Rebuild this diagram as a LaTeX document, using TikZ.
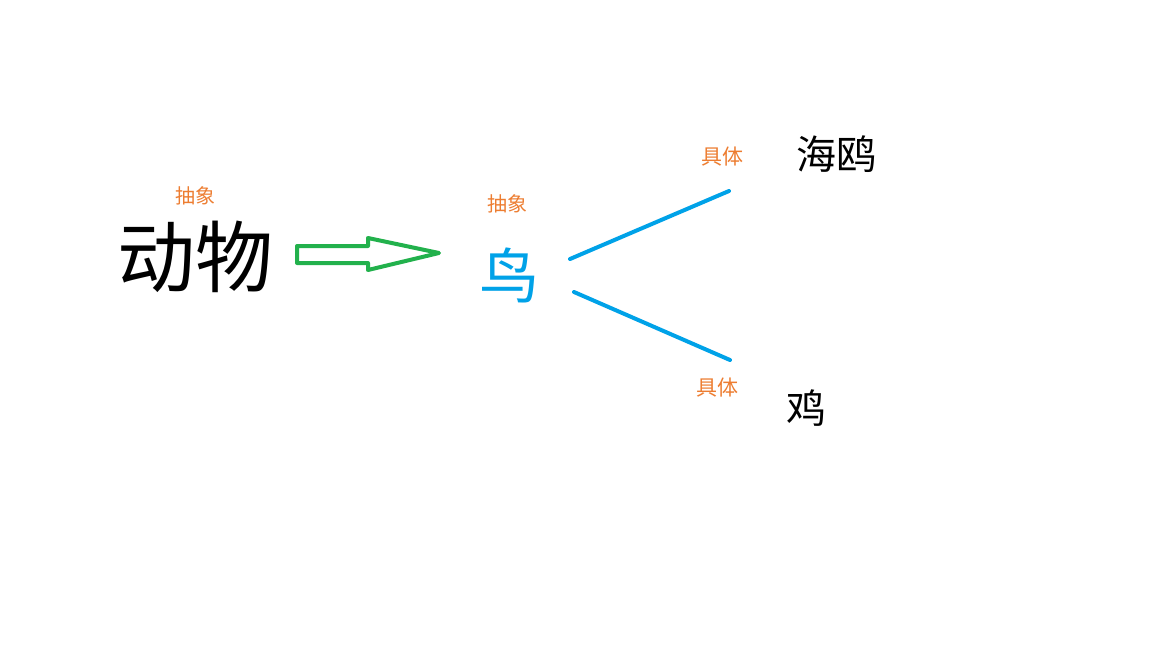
\documentclass[tikz,border=0pt]{standalone}
\usepackage{fontspec}
\setmainfont{Noto Sans CJK SC}
\definecolor{lbl}{HTML}{ED7D31}
\definecolor{birdblue}{HTML}{00A2E8}
\definecolor{arrgreen}{HTML}{22B14C}
\begin{document}
\begin{tikzpicture}[x=1pt,y=-1pt,
  txt/.style={inner sep=0pt,anchor=center},
  tag/.style={txt,text=lbl,font=\fontsize{20}{20}\selectfont},
  link/.style={draw=birdblue,line width=4pt,line cap=round}]
\useasboundingbox[fill=white] (0,0) rectangle (1152,648);
% main words
\node[txt,font=\fontsize{78}{78}\selectfont] (animal) at (195,257) {动物};
\node[tag] (abs1) at (195,196) {抽象};
\node[txt,text=birdblue,font=\fontsize{60}{60}\selectfont] (bird) at (509,275) {鸟};
\node[tag] (abs2) at (507,204) {抽象};
\node[txt,font=\fontsize{40}{40}\selectfont] (gull) at (836,154) {海鸥};
\node[txt,font=\fontsize{40}{40}\selectfont] (hen) at (806,408) {鸡};
\node[tag,font=\fontsize{21}{21}\selectfont] (con1) at (722,157) {具体};
\node[tag,font=\fontsize{21}{21}\selectfont] (con2) at (717,388) {具体};
% green outlined arrow
\draw[arrgreen,line width=4pt,line join=round]
  (297,246) -- (368,246) -- (368,238) -- (439,253) -- (368,270) -- (368,263) -- (297,263) -- cycle;
% blue links
\coordinate (l1a) at (570,259);
\coordinate (l1b) at (729,191);
\coordinate (l2a) at (574,292);
\coordinate (l2b) at (730,360);
\draw[link] (l1a) -- (l1b);
\draw[link] (l2a) -- (l2b);
\end{tikzpicture}
\end{document}
